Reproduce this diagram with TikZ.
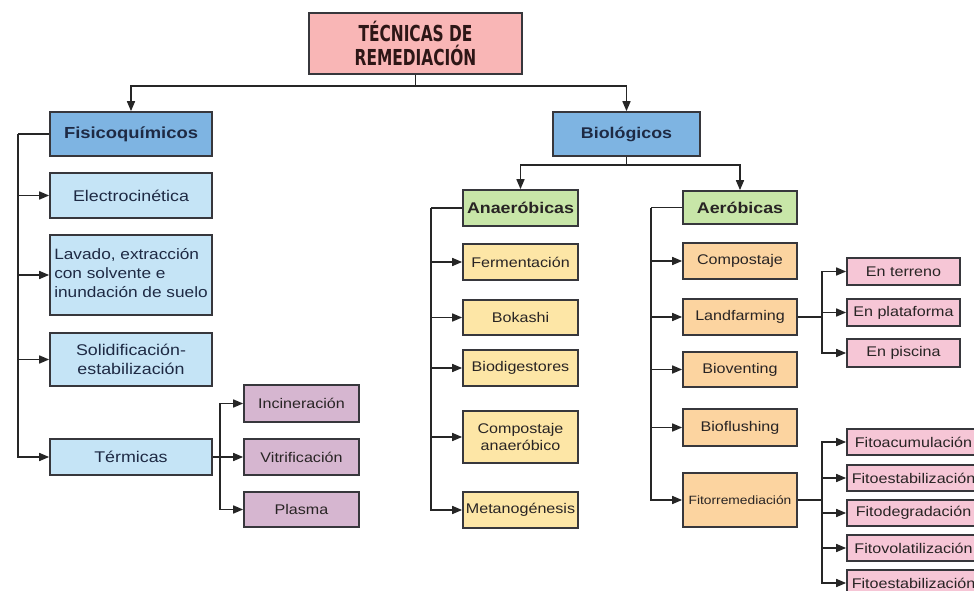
\documentclass[tikz,border=0pt]{standalone}
\usepackage{fontspec}
\setmainfont{Liberation Sans}[FakeStretch=1.15]
\newfontfamily\titlefont{DejaVu Sans}[FakeStretch=0.7]
\usetikzlibrary{arrows.meta}
\definecolor{bordc}{RGB}{55,55,60}
\definecolor{titlec}{RGB}{249,182,182}
\definecolor{titletxt}{RGB}{45,22,22}
\definecolor{blueD}{RGB}{126,180,226}
\definecolor{blueL}{RGB}{197,228,246}
\definecolor{navy}{RGB}{30,42,68}
\definecolor{purp}{RGB}{214,182,208}
\definecolor{greenc}{RGB}{200,230,168}
\definecolor{yellc}{RGB}{253,230,166}
\definecolor{orac}{RGB}{252,212,160}
\definecolor{pinkc}{RGB}{246,198,214}
\definecolor{txtc}{RGB}{40,36,36}
\tikzset{
  bx/.style={draw=bordc, line width=1.7pt, inner xsep=2pt, inner ysep=0pt, align=center, text=txtc},
  arr/.style={-{Triangle[length=10pt,width=8pt]}, line width=1.6pt, draw=black!85},
  ln/.style={line width=1.6pt, draw=black!85},
  fL/.style={font=\fontsize{15.5}{18.5}\selectfont},
  fM/.style={font=\fontsize{14}{17}\selectfont},
  fB/.style={font=\bfseries\fontsize{15.5}{18.5}\selectfont},
  leftbox/.style={bx, fill=blueL, minimum width=162pt, fL, text=navy},
  purbox/.style={bx, fill=purp, minimum width=115pt, fM},
  yelbox/.style={bx, fill=yellc, minimum width=115pt, fM},
  orabox/.style={bx, fill=orac, minimum width=114pt, fM},
  pinkbox/.style={bx, fill=pinkc, minimum width=113pt, minimum height=27pt, fM},
  fitobox/.style={bx, fill=pinkc, minimum width=133pt, minimum height=26pt, fM},
}
\begin{document}
\begin{tikzpicture}[x=1pt,y=-1pt]
\useasboundingbox[fill=white] (0,0) rectangle (974,591);
% top
\node[bx, fill=titlec, minimum width=213pt, minimum height=61pt, text=titletxt,
      font=\titlefont\bfseries\fontsize{22}{24}\selectfont] (title) at (415.5,43.5) {TÉCNICAS DE\\REMEDIACIÓN};
\node[bx, fill=blueD, minimum width=162pt, minimum height=44pt, fB, text=navy, font=\bfseries\fontsize{16}{19}\selectfont] (fis) at (131,134) {Fisicoquímicos};
\node[bx, fill=blueD, minimum width=147pt, minimum height=44pt, fB, text=navy] (bio) at (626.5,134) {Biológicos};
% left column
\node[leftbox, minimum height=45pt] (elec) at (131,195.5) {Electrocinética};
\node[leftbox, minimum height=80pt, inner xsep=1pt, font=\fontsize{15}{19}\selectfont] (lav) at (131,275) {\begin{tabular}{@{}l@{}}Lavado, extracción\\con solvente e\\inundación de suelo\end{tabular}};
\node[leftbox, minimum height=53pt] (sol) at (131,359.5) {Solidificación-\\estabilización};
\node[leftbox, minimum height=36pt] (term) at (131,457) {Térmicas};
\node[purbox, minimum height=37pt] (incin) at (301.5,403.5) {Incineración};
\node[purbox, minimum height=36pt] (vitri) at (301.5,457) {Vitrificación};
\node[purbox, minimum height=35pt] (plasma) at (301.5,509.5) {Plasma};
% anaerobic
\node[bx, fill=greenc, minimum width=115pt, minimum height=36pt, fB] (anaer) at (520.5,208) {Anaeróbicas};
\node[yelbox, minimum height=36pt] (ferm) at (520.5,262) {Fermentación};
\node[yelbox, minimum height=35pt] (bok) at (520.5,317.5) {Bokashi};
\node[yelbox, minimum height=36pt] (biod) at (520.5,368) {Biodigestores};
\node[yelbox, minimum height=52pt] (compan) at (520.5,437) {Compostaje\\anaeróbico};
\node[yelbox, minimum height=36pt] (metan) at (520.5,510) {Metanogénesis};
% aerobic
\node[bx, fill=greenc, minimum width=114pt, minimum height=33pt, fB] (aer) at (740,207.5) {Aeróbicas};
\node[orabox, minimum height=36pt] (comp) at (740,261) {Compostaje};
\node[orabox, minimum height=36pt] (land) at (740,317) {Landfarming};
\node[orabox, minimum height=35pt] (biov) at (740,369.5) {Bioventing};
\node[orabox, minimum height=37pt] (biof) at (740,427.5) {Bioflushing};
\node[orabox, minimum height=54pt, font=\fontsize{12}{14}\selectfont] (fito) at (740,500) {Fitorremediación};
% landfarming children
\node[pinkbox] (ter) at (903.5,271.5) {En terreno};
\node[pinkbox] (pla) at (903.5,312.5) {En plataforma};
\node[pinkbox, minimum height=28pt] (pis) at (903.5,353) {En piscina};
% fito children
\node[fitobox] (fa) at (913.5,442) {Fitoacumulación};
\node[fitobox] (fe) at (913.5,478) {Fitoestabilización};
\node[fitobox] (fd) at (913.5,513) {Fitodegradación};
\node[fitobox] (fv) at (913.5,548) {Fitovolatilización};
\node[fitobox] (fe2) at (913.5,583) {Fitoestabilización};
% connectors
\draw[ln] (title.south) -- ++(0,11) coordinate (tj);
\draw[arr] (tj) -| (fis.north);
\draw[arr] (tj) -| (bio.north);
\coordinate (lt) at (18,134);
\draw[ln] (fis.west) -- (lt);
\draw[arr] (lt) |- (term.west);
\foreach \n in {elec,lav,sol} \draw[arr] (lt |- \n.west) -- (\n.west);
\coordinate (tt) at (220,457);
\draw[arr] (term.east) -- (vitri.west);
\draw[arr] (tt) |- (incin.west);
\draw[arr] (tt) |- (plasma.west);
\draw[ln] (bio.south) -- ++(0,8) coordinate (bj);
\draw[arr] (bj) -| (anaer.north);
\draw[arr] (bj) -| (aer.north);
\coordinate (at) at (431,208);
\draw[ln] (anaer.west) -- (at);
\draw[arr] (at) |- (metan.west);
\foreach \n in {ferm,bok,biod,compan} \draw[arr] (at |- \n.west) -- (\n.west);
\coordinate (bt) at (651,207.5);
\draw[ln] (aer.west) -- (bt);
\draw[arr] (bt) |- (fito.west);
\foreach \n in {comp,land,biov,biof} \draw[arr] (bt |- \n.west) -- (\n.west);
\coordinate (lj) at (822,317);
\draw[ln] (land.east) -- (lj);
\foreach \n in {ter,pla,pis} \draw[arr] (lj) |- (\n.west);
\coordinate (fj) at (822,500);
\draw[ln] (fito.east) -- (fj);
\foreach \n in {fa,fe,fd,fv,fe2} \draw[arr] (fj) |- (\n.west);
\end{tikzpicture}
\end{document}
